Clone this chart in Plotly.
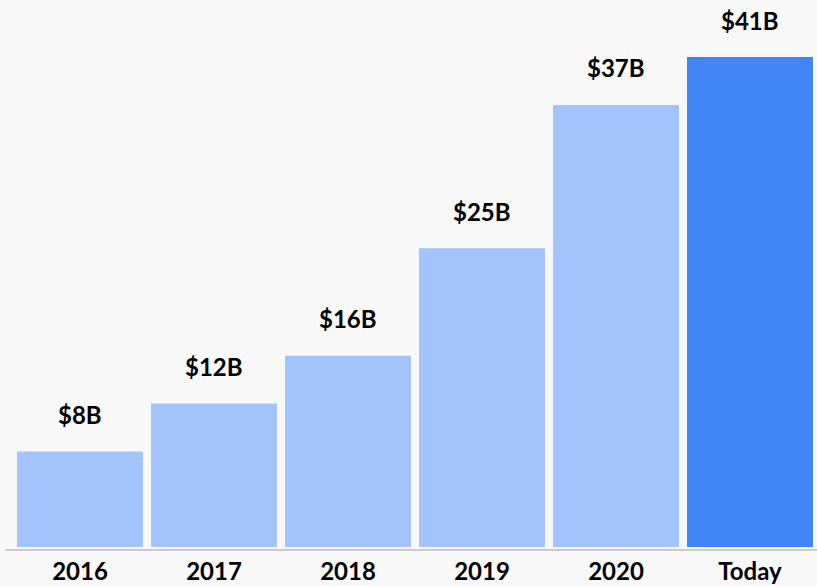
import plotly.graph_objects as go

categories = ["2016", "2017", "2018", "2019", "2020", "Today"]
values = [8, 12, 16, 25, 37, 41]
labels = ["$8B", "$12B", "$16B", "$25B", "$37B", "$41B"]
colors = ["#a3c3fd", "#a3c3fd", "#a3c3fd", "#a3c3fd", "#a3c3fd", "#4285f7"]

FONT = "Lato"

fig = go.Figure(go.Bar(
    x=categories, y=values, marker=dict(color=colors, line=dict(width=0)),
    hoverinfo="skip",
))

for i, (v, t) in enumerate(zip(values, labels)):
    fig.add_annotation(x=i, y=v, text=f"<b>{t}</b>", showarrow=False,
                       yshift=37, font=dict(family=FONT, size=24, color="#000"))

fig.add_shape(type="line", xref="paper", yref="paper", x0=-0.01, x1=1, y0=0, y1=0,
              line=dict(color="#cccccc", width=2))

fig.update_layout(
    width=817, height=586,
    margin=dict(l=13, r=0, t=10, b=36),
    paper_bgcolor="#f8f8f8", plot_bgcolor="#f8f8f8",
    bargap=0.06,
    showlegend=False,
    xaxis=dict(type="category", range=[-0.5, len(categories) - 0.5],
               showline=False, ticks="", ticklabelstandoff=5,
               tickfont=dict(family=FONT, size=24, color="#000", weight="bold"),
               showgrid=False, zeroline=False),
    yaxis=dict(range=[-0.25, 44.94], visible=False, showgrid=False, zeroline=False),
)

fig.write_html("out.html", config={"displayModeBar": False},
               post_script="document.body.style.margin='0';document.body.style.background='#f8f8f8';")
